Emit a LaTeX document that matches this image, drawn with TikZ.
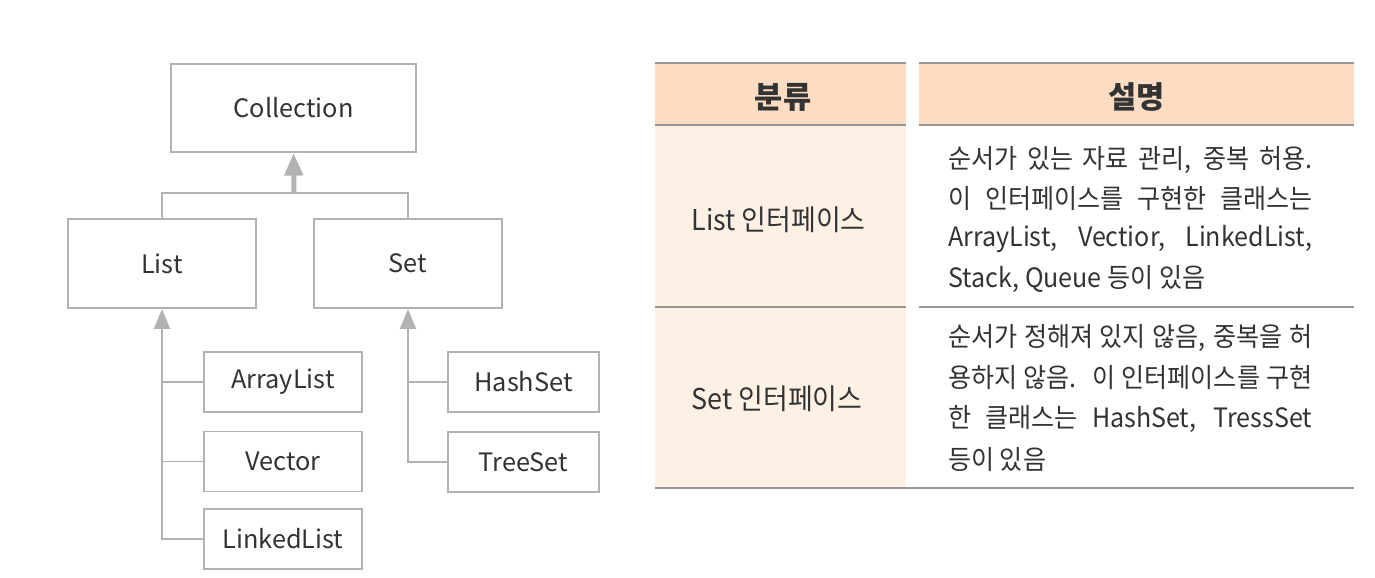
\documentclass[tikz,border=0pt]{standalone}
\usepackage{fontspec}
\setmainfont{Noto Sans CJK KR}
\newfontfamily\tblfont[FakeStretch=0.94]{Noto Sans CJK KR}
\usetikzlibrary{arrows.meta}
\definecolor{boxgray}{RGB}{178,178,178}
\definecolor{rulegray}{RGB}{150,150,150}
\definecolor{headfill}{RGB}{252,221,196}
\definecolor{cellfill}{RGB}{253,241,230}
\definecolor{txt}{RGB}{51,51,51}
\newcommand{\jline}[1]{\makebox[273pt][s]{\spaceskip=1.5pt plus 1fil\relax #1}}
\begin{document}
\begin{tikzpicture}[x=0.75pt,y=0.75pt,yscale=-1,xscale=1,
  box/.style={draw=boxgray,line width=1.4pt,text=txt,font=\fontsize{19}{22}\selectfont,inner sep=0pt},
  link/.style={draw=boxgray,line width=1.4pt},
  inh/.style={link,-{Triangle[length=15pt,width=12pt]}},
  cell/.style={anchor=west,inner sep=0pt,text=txt,font=\tblfont\fontsize{20}{22}\selectfont}]
\path[use as bounding box] (0,0) rectangle (1375,578);

%Table: fills and rules
\fill[headfill] (655,63) rectangle (906,125);
\fill[headfill] (919,63) rectangle (1354,125);
\fill[cellfill] (655,125) rectangle (906,488);
\draw[rulegray,line width=1.5pt] (655,63) -- (906,63) (919,63) -- (1354,63) (655,125) -- (906,125) (919,125) -- (1354,125) (655,307) -- (906,307) (919,307) -- (1354,307) (655,488) -- (1354,488);

%Boxes of the hierarchy
\node[box,minimum width=183.75pt,minimum height=66pt] (coll) at (293.5,108) {Collection};
\node[box,minimum width=141pt,minimum height=66.75pt] (list) at (162,263.5) {List};
\node[box,minimum width=141pt,minimum height=66.75pt] (set) at (408,263.5) {Set};
\node[box,minimum width=118.5pt,minimum height=45pt] (arr) at (283,382) {ArrayList};
\node[box,minimum width=118.5pt,minimum height=45pt] (vec) at (283,461.5) {Vector};
\node[box,minimum width=118.5pt,minimum height=45pt] (lnk) at (283,539) {LinkedList};
\node[box,minimum width=113.25pt,minimum height=45pt] (hash) at (523.5,382) {HashSet};
\node[box,minimum width=113.25pt,minimum height=45pt] (tree) at (523.5,462) {TreeSet};

%Connectors
\coordinate (jn) at (294,193);
\draw[link] (list.north) |- (jn) -| (set.north);
\draw[draw=boxgray,line width=3.75pt,-{Triangle[length=17pt,width=13.5pt]}] (jn) -- (coll.south);
\draw[inh] (lnk.west) -| (list.south);
\draw[link] (arr.west) -- (arr.west -| list.south);
\draw[link] (vec.west) -- (vec.west -| list.south);
\draw[inh] (tree.west) -| (set.south);
\draw[link] (hash.west) -- (hash.west -| set.south);

% Text Node
\node[text=txt,font=\fontsize{23}{26}\selectfont\bfseries] (hcat) at (783,97) {분류};
\node[text=txt,font=\fontsize{23}{26}\selectfont\bfseries] (hdesc) at (1136.5,97) {설명};
\node[text=txt,font=\tblfont\fontsize{21.5}{24}\selectfont] (lrow) at (778.5,220) {List 인터페이스};
\node[text=txt,font=\tblfont\fontsize{21.5}{24}\selectfont] (srow) at (777,399) {Set 인터페이스};
% Text Node
\node[cell] (d1) at (948,160) {\jline{순서가 있는 자료 관리, 중복 허용.}};
\node[cell] (d2) at (948,199) {\jline{이 인터페이스를 구현한 클래스는}};
\node[cell] (d3) at (948,239) {\jline{ArrayList, Vectior, LinkedList,}};
\node[cell] (d4) at (948,279) {Stack, Queue 등이 있음};
% Text Node
\node[cell] (d5) at (948,338) {\jline{순서가 정해져 있지 않음, 중복을 허}};
\node[cell] (d6) at (948,378) {\jline{용하지 않음. 이 인터페이스를 구현}};
\node[cell] (d7) at (948,419) {\jline{한 클래스는 HashSet, TressSet}};
\node[cell] (d8) at (948,460) {등이 있음};

\end{tikzpicture}
\end{document}
